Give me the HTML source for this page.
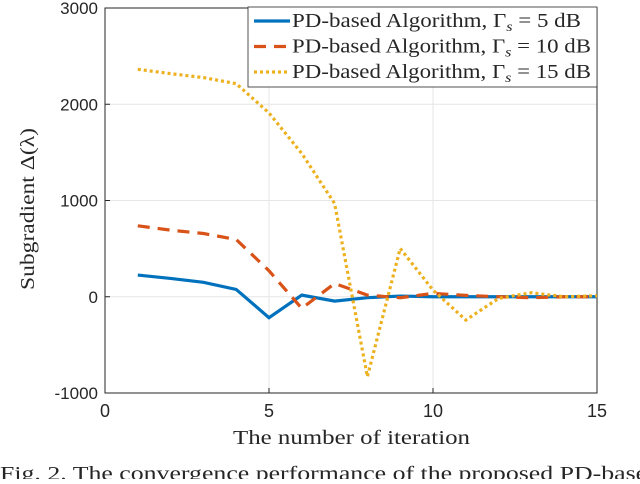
<!DOCTYPE html>
<html><head><meta charset="utf-8"><style>
body{margin:0;background:#fff;overflow:hidden;}
svg text{font-family:"Liberation Serif",serif;fill:#262626;}
svg text.tick{font-family:"Liberation Sans",sans-serif;}
</style></head><body>
<svg width="640" height="479" xmlns="http://www.w3.org/2000/svg">
<g id="grid"></g>
<g id="axes"></g>
<g id="series"></g>
<g id="legend"></g>
<text x="233" y="444" font-size="20" textLength="237" lengthAdjust="spacingAndGlyphs">The number of iteration</text>
<text transform="translate(34,290) rotate(-90)" font-size="20" textLength="162" lengthAdjust="spacingAndGlyphs">Subgradient Δ(λ)</text>
<text x="0" y="480" font-size="20" fill="#444" textLength="660" lengthAdjust="spacingAndGlyphs">Fig. 2.  The convergence performance of the proposed PD-based</text>
</svg>
<script>
const iterations=[1,2,3,4,5,6,7,8,9,10,11,12,13,14,15];
const s5=[225,190,150,76,-218,17,-45,-10,7,0,0,0,0,0,0];
const s10=[737,692,657,595,270,-121,138,17,-10,35,14,0,-10,0,0];
const s15=[2363,2318,2277,2214,1910,1488,969,-830,502,69,-242,-17,42,0,10];
const xTicks=[0,5,10,15];
const yTicks=[-1000,0,1000,2000,3000];
const L=105,R=597,T=8,B=393;
const X=v=>L+(v-0)/15*(R-L);
const Y=v=>B-(v+1000)/4000*(B-T);
const NS="http://www.w3.org/2000/svg";
function mk(p,tag,attrs){const e=document.createElementNS(NS,tag);for(const k in attrs)e.setAttribute(k,attrs[k]);p.appendChild(e);return e;}
const grid=document.getElementById('grid'),axes=document.getElementById('axes'),ser=document.getElementById('series'),leg=document.getElementById('legend');
xTicks.forEach(t=>{
 const g=mk(grid,'line',{x1:X(t),x2:X(t),y1:T,y2:B,stroke:'#e6e6e6'});
 
 
 const tk=mk(axes,'line',{x1:X(t),x2:X(t),y1:B,y2:B-5,stroke:'#262626'});
 
 
 const tx=mk(axes,'text',{x:X(t),y:B+24,'font-size':18,'text-anchor':'middle','class':'tick'});tx.textContent=t;
 
 
});
yTicks.forEach(t=>{
 const g=mk(grid,'line',{x1:L,x2:R,y1:Y(t),y2:Y(t),stroke:'#e6e6e6'});
 
 
 const tk=mk(axes,'line',{x1:L,x2:L+5,y1:Y(t),y2:Y(t),stroke:'#262626'});
 
 
 const tx=mk(axes,'text',{x:L-7,y:Y(t)+6,'font-size':17,'text-anchor':'end','class':'tick'});tx.textContent=t;
 
 
});
const box=mk(axes,'rect',{x:L,y:T,width:R-L,height:B-T,fill:'none',stroke:'#262626','stroke-width':1});


const defs=[[s5,'#0072bd','',"5",289],[s10,'#d95319','12 8',"10",299],[s15,'#edb120','3 3',"15",299]];
defs.forEach(([d,c,da,lab])=>{
 const p=mk(ser,'polyline',{points:d.map((v,i)=>X(iterations[i])+','+Y(v)).join(' '),fill:'none',stroke:c,'stroke-width':3.2,'stroke-dasharray':da});
 
 
});
const lb=mk(leg,'rect',{x:248,y:7,width:349,height:80,fill:'#fff',stroke:'#262626','stroke-width':0.8});


defs.forEach(([d,c,da,lab,w],i)=>{
 const y=21+i*25.5;
 const l=mk(leg,'line',{x1:254,x2:290,y1:y,y2:y,stroke:c,'stroke-width':3.2,'stroke-dasharray':da});
 
 
 const t=mk(leg,'text',{x:292,y:y+6,'font-size':20,textLength:w,lengthAdjust:'spacingAndGlyphs'});
 t.innerHTML='PD-based Algorithm, Γ<tspan font-style="italic" font-size="14" dy="4">s</tspan><tspan dy="-4"> = '+lab+' dB</tspan>';
 
 
});
</script>
</body></html>
